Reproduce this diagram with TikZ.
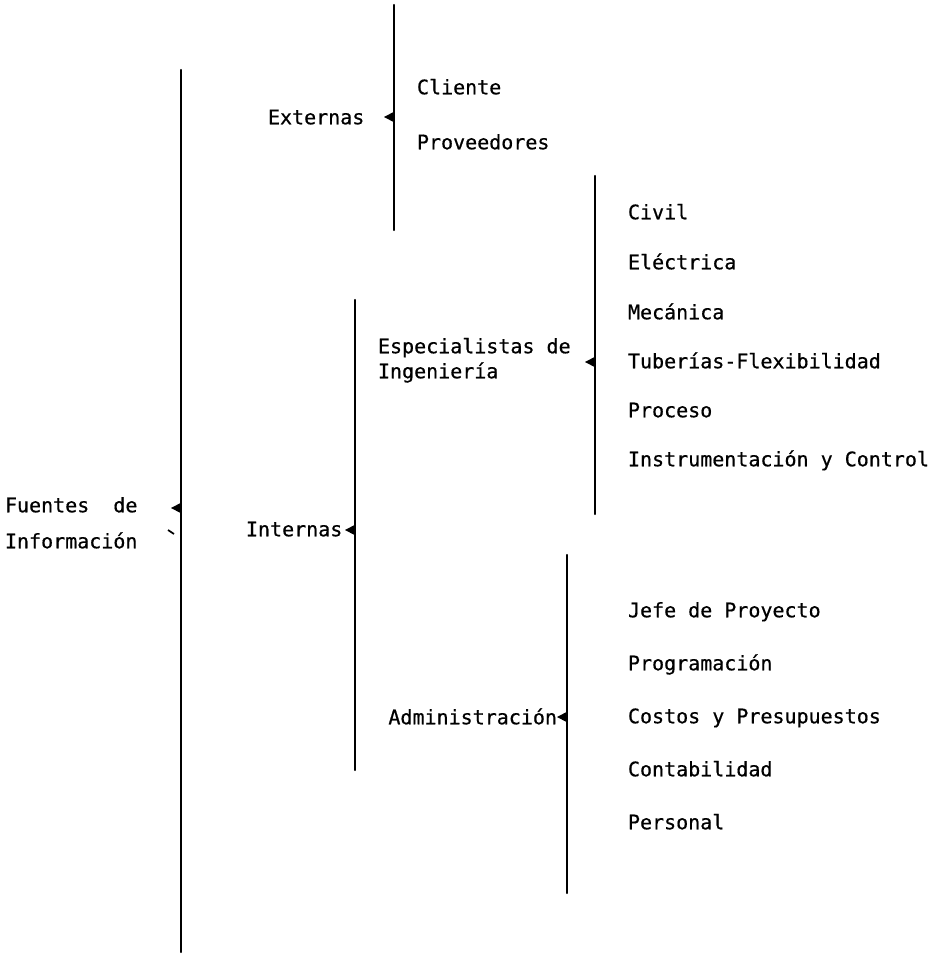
\documentclass[tikz,border=0pt]{standalone}
\usepackage{fontspec}
\setmonofont[FakeBold=0.6]{DejaVu Sans Mono}
\newcommand{\leftwedge}[1]{\fill (#1) ++(0.5,-5.5) -- ++(-10.5,5.5) -- ++(10.5,5.5) -- cycle;}
\begin{document}
\begin{tikzpicture}[x=0.75pt,y=-0.75pt,
  lbl/.style={font=\ttfamily\fontsize{15}{18}\selectfont, inner sep=0pt, outer sep=0pt,
              text height=10.9pt, text depth=0pt, anchor=west},
  lblr/.style={lbl, anchor=east},
  bar/.style={line width=1.8pt, line cap=round}]
\useasboundingbox (0,0) rectangle (939,956);

% ---------- level 0 ----------
\node[lbl] (fuentes) at (5,505) {Fuentes\ \ de};
\node[lbl] (informacion) at (5,541) {Información};
\coordinate (m0t) at (181,70);
\coordinate (m0b) at (181,952);
\coordinate (m0k) at (181,508);
\draw[bar] (m0t) -- (m0b);
\leftwedge{m0k}
\draw[line width=1.3pt] (168,530) -- (174,534);

% ---------- Externas ----------
\node[lbl] (externas) at (268,117) {Externas};
\coordinate (m1t) at (394,5);
\coordinate (m1b) at (394,230);
\coordinate (m1k) at (394,117);
\draw[bar] (m1t) -- (m1b);
\leftwedge{m1k}
\node[lbl] (cliente) at (417,87) {Cliente};
\node[lbl] (proveedores) at (417,142) {Proveedores};

% ---------- Internas ----------
\node[lbl] (internas) at (246,529) {Internas};
\coordinate (m2t) at (355,300);
\coordinate (m2b) at (355,770);
\coordinate (m2k) at (355,530);
\draw[bar] (m2t) -- (m2b);
\leftwedge{m2k}

% ---------- Especialistas de Ingenieria ----------
\node[lbl] (esp1) at (378,346) {Especialistas de};
\node[lbl] (esp2) at (378,371) {Ingeniería};
\coordinate (m3t) at (595,176);
\coordinate (m3b) at (595,514);
\coordinate (m3k) at (595,362);
\draw[bar] (m3t) -- (m3b);
\leftwedge{m3k}
\node[lbl] (civil) at (628,212) {Civil};
\node[lbl] (electrica) at (628,262) {Eléctrica};
\node[lbl] (mecanica) at (628,312) {Mecánica};
\node[lbl] (tuberias) at (628,361) {Tuberías-Flexibilidad};
\node[lbl] (proceso) at (628,410) {Proceso};
\node[lbl] (instrum) at (628,459) {Instrumentación y Control};

% ---------- Administracion ----------
\node[lblr] (admin) at (557,717) {Administración};
\coordinate (m4t) at (567,555);
\coordinate (m4b) at (567,893);
\coordinate (m4k) at (567,717);
\draw[bar] (m4t) -- (m4b);
\leftwedge{m4k}
\node[lbl] (jefe) at (628,610) {Jefe de Proyecto};
\node[lbl] (program) at (628,663) {Programación};
\node[lbl] (costos) at (628,716) {Costos y Presupuestos};
\node[lbl] (contab) at (628,769) {Contabilidad};
\node[lbl] (personal) at (628,822) {Personal};
\end{tikzpicture}
\end{document}
